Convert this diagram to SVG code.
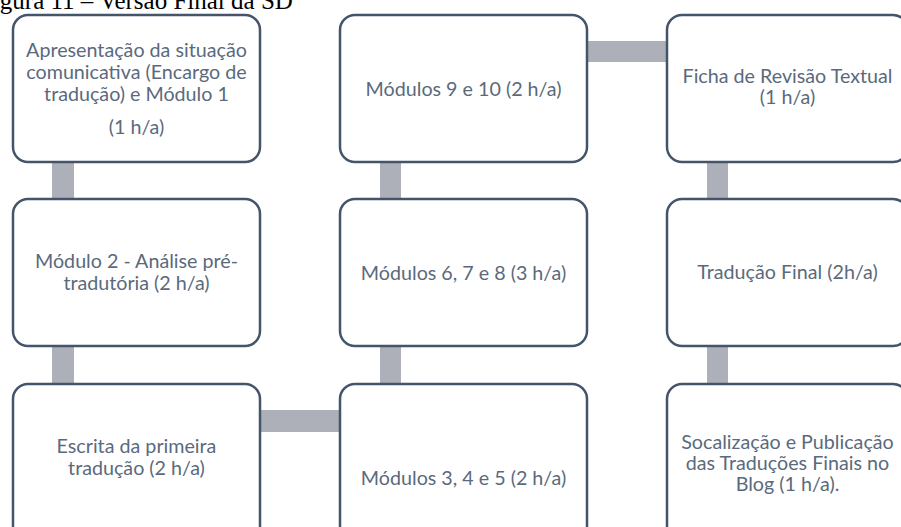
<svg xmlns="http://www.w3.org/2000/svg" width="901" height="527" viewBox="0 0 901 527">
<style>
.box{fill:#ffffff;stroke:#44546a;stroke-width:2.5}
.con{fill:#adb0b8}
.t{font-family:Lato,"Open Sans","Liberation Sans",sans-serif;font-size:19.7px;fill:#5a6a7c;text-anchor:middle}
.title{font-family:"Liberation Serif","Times New Roman",serif;font-size:25px;fill:#000}
</style>
<rect width="901" height="527" fill="#ffffff"/>
<text class="title" x="-21" y="9">Figura 11 – Versão Final da SD</text>
<g id="connectors">
<rect class="con" x="52" y="160" width="22" height="42"/>
<rect class="con" x="52" y="344" width="22" height="42"/>
<rect class="con" x="380" y="160" width="21" height="42"/>
<rect class="con" x="380" y="344" width="21" height="42"/>
<rect class="con" x="707" y="160" width="21" height="42"/>
<rect class="con" x="707" y="344" width="21" height="42"/>
<rect class="con" x="585" y="41" width="84" height="21"/>
<rect class="con" x="258" y="410" width="84" height="22"/>
</g>
<g id="n1">
<rect class="box" x="13" y="15" width="247" height="147" rx="15"/>
<text class="t" x="136.5" y="57">Apresentação da situação</text>
<text class="t" x="136.5" y="79">comunicativa (Encargo de</text>
<text class="t" x="136.5" y="101">tradução) e Módulo 1</text>
<text class="t" x="136.5" y="134">(1 h/a)</text>
</g>
<g id="n2">
<rect class="box" x="13" y="199" width="247" height="147" rx="15"/>
<text class="t" x="136.5" y="268">Módulo 2 - Análise pré-</text>
<text class="t" x="136.5" y="290">tradutória (2 h/a)</text>
</g>
<g id="n3">
<rect class="box" x="13" y="384" width="247" height="160" rx="15"/>
<text class="t" x="136.5" y="453">Escrita da primeira</text>
<text class="t" x="136.5" y="475">tradução (2 h/a)</text>
</g>
<g id="n4">
<rect class="box" x="340" y="384" width="247" height="160" rx="15"/>
<text class="t" x="463.5" y="485">Módulos 3, 4 e 5 (2 h/a)</text>
</g>
<g id="n5">
<rect class="box" x="340" y="199" width="247" height="147" rx="15"/>
<text class="t" x="463.5" y="280">Módulos 6, 7 e 8 (3 h/a)</text>
</g>
<g id="n6">
<rect class="box" x="340" y="15" width="247" height="147" rx="15"/>
<text class="t" x="463.5" y="96">Módulos 9 e 10 (2 h/a)</text>
</g>
<g id="n7">
<rect class="box" x="667" y="15" width="241" height="147" rx="15"/>
<text class="t" x="787.5" y="83">Ficha de Revisão Textual</text>
<text class="t" x="787.5" y="104">(1 h/a)</text>
</g>
<g id="n8">
<rect class="box" x="667" y="199" width="241" height="147" rx="15"/>
<text class="t" x="787.5" y="279">Tradução Final (2h/a)</text>
</g>
<g id="n9">
<rect class="box" x="667" y="384" width="241" height="160" rx="15"/>
<text class="t" x="787.5" y="449">Socalização e Publicação</text>
<text class="t" x="787.5" y="470">das Traduções Finais no</text>
<text class="t" x="787.5" y="491">Blog (1 h/a).</text>
</g>
</svg>
